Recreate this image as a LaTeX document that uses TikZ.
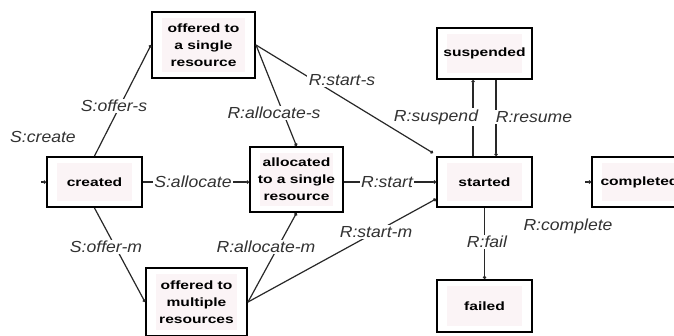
\documentclass[tikz,border=0pt]{standalone}
\usepackage{fontspec}
\setmainfont{Liberation Sans}
\newfontfamily\boxfont[FakeStretch=1.3]{Liberation Sans}
\newfontfamily\lblfont[FakeStretch=1.1]{Liberation Sans}
\usetikzlibrary{arrows.meta}
\definecolor{boxpink}{RGB}{251,244,246}
\definecolor{lncol}{RGB}{40,40,40}
\definecolor{lblcol}{RGB}{50,50,50}
\tikzset{
  state/.style={draw=black, line width=2pt, fill=white, align=center,
    inner sep=0pt,
    font=\boxfont\bfseries\fontsize{12}{17}\selectfont,
    path picture={\fill[boxpink]
      ([xshift=10pt,yshift=-6pt]path picture bounding box.north west) rectangle
      ([xshift=-10pt,yshift=6pt]path picture bounding box.south east);}},
  conn/.style={draw=lncol, line width=1.2pt, -{Circle[length=3.2pt]}},
  lbl/.style={font=\lblfont\itshape\fontsize{16}{18}\selectfont, text=lblcol,
    fill=white, inner sep=1.5pt}
}
\begin{document}
\begin{tikzpicture}[x=1pt,y=-1pt]
\useasboundingbox (0,0) rectangle (674,335);
\clip (0,0) rectangle (674,335);
\fill[white] (0,0) rectangle (674,335);
% states
\node[state, minimum width=103pt, minimum height=66pt] (os) at (203.5,45) {offered to\\a single\\resource};
\node[state, minimum width=95pt, minimum height=50pt] (created) at (94.5,182) {created};
\node[state, minimum width=93pt, minimum height=65pt] (alloc) at (296.5,179.5) {allocated\\to a single\\resource};
\node[state, minimum width=101pt, minimum height=68pt] (om) at (196.5,302) {offered to\\multiple\\resources};
\node[state, minimum width=95pt, minimum height=51pt] (susp) at (484.5,53.5) {suspended};
\node[state, minimum width=95pt, minimum height=50pt] (started) at (484.5,182) {started};
\node[state, minimum width=95pt, minimum height=52pt] (failed) at (484.5,306) {failed};
\node[state, minimum width=95pt, minimum height=50pt] (completed) at (639.5,182) {completed};
% connectors
\coordinate (cin) at (41,182);
\coordinate (cout) at (585,182);
\draw[conn] (cin) -- (created.west);
\draw[conn] (created.north) -- (os.west);
\draw[conn] (os.east) -- (alloc.north);
\draw[conn] (os.east) -- ([shift={(-3pt,3pt)}]started.north west);
\draw[conn] ([xshift=-11.5pt]started.north) -- ([xshift=-11.5pt]susp.south);
\draw[conn] ([xshift=11.5pt]susp.south) -- ([xshift=11.5pt]started.north);
\draw[conn] (created.east) -- (created.east -| alloc.west);
\draw[conn] (alloc.east |- started.west) -- (started.west);
\draw[conn] (om.east) -- ([yshift=9pt]started.south west);
\draw[conn] (om.east) -- (alloc.south);
\draw[conn] (created.south) -- (om.west);
\draw[conn] (started.south) -- (failed.north);
\draw[conn] (cout) -- (completed.west);
% labels
\node[lbl] (l1) at (43,137) {S:create};
\node[lbl] (l2) at (114,106) {S:offer-s};
\node[lbl] (l3) at (274,113) {R:allocate-s};
\node[lbl] (l4) at (342,80) {R:start-s};
\node[lbl] (l5) at (436,117) {R:suspend};
\node[lbl] (l6) at (534,117) {R:resume};
\node[lbl] (l7) at (193,182) {S:allocate};
\node[lbl] (l8) at (387,182) {R:start};
\node[lbl] (l9) at (376,232) {R:start-m};
\node[lbl] (l10) at (266,247) {R:allocate-m};
\node[lbl] (l11) at (106,247) {S:offer-m};
\node[lbl] (l12) at (487,242) {R:fail};
\node[lbl] (l13) at (568,226) {R:complete};
\end{tikzpicture}
\end{document}
